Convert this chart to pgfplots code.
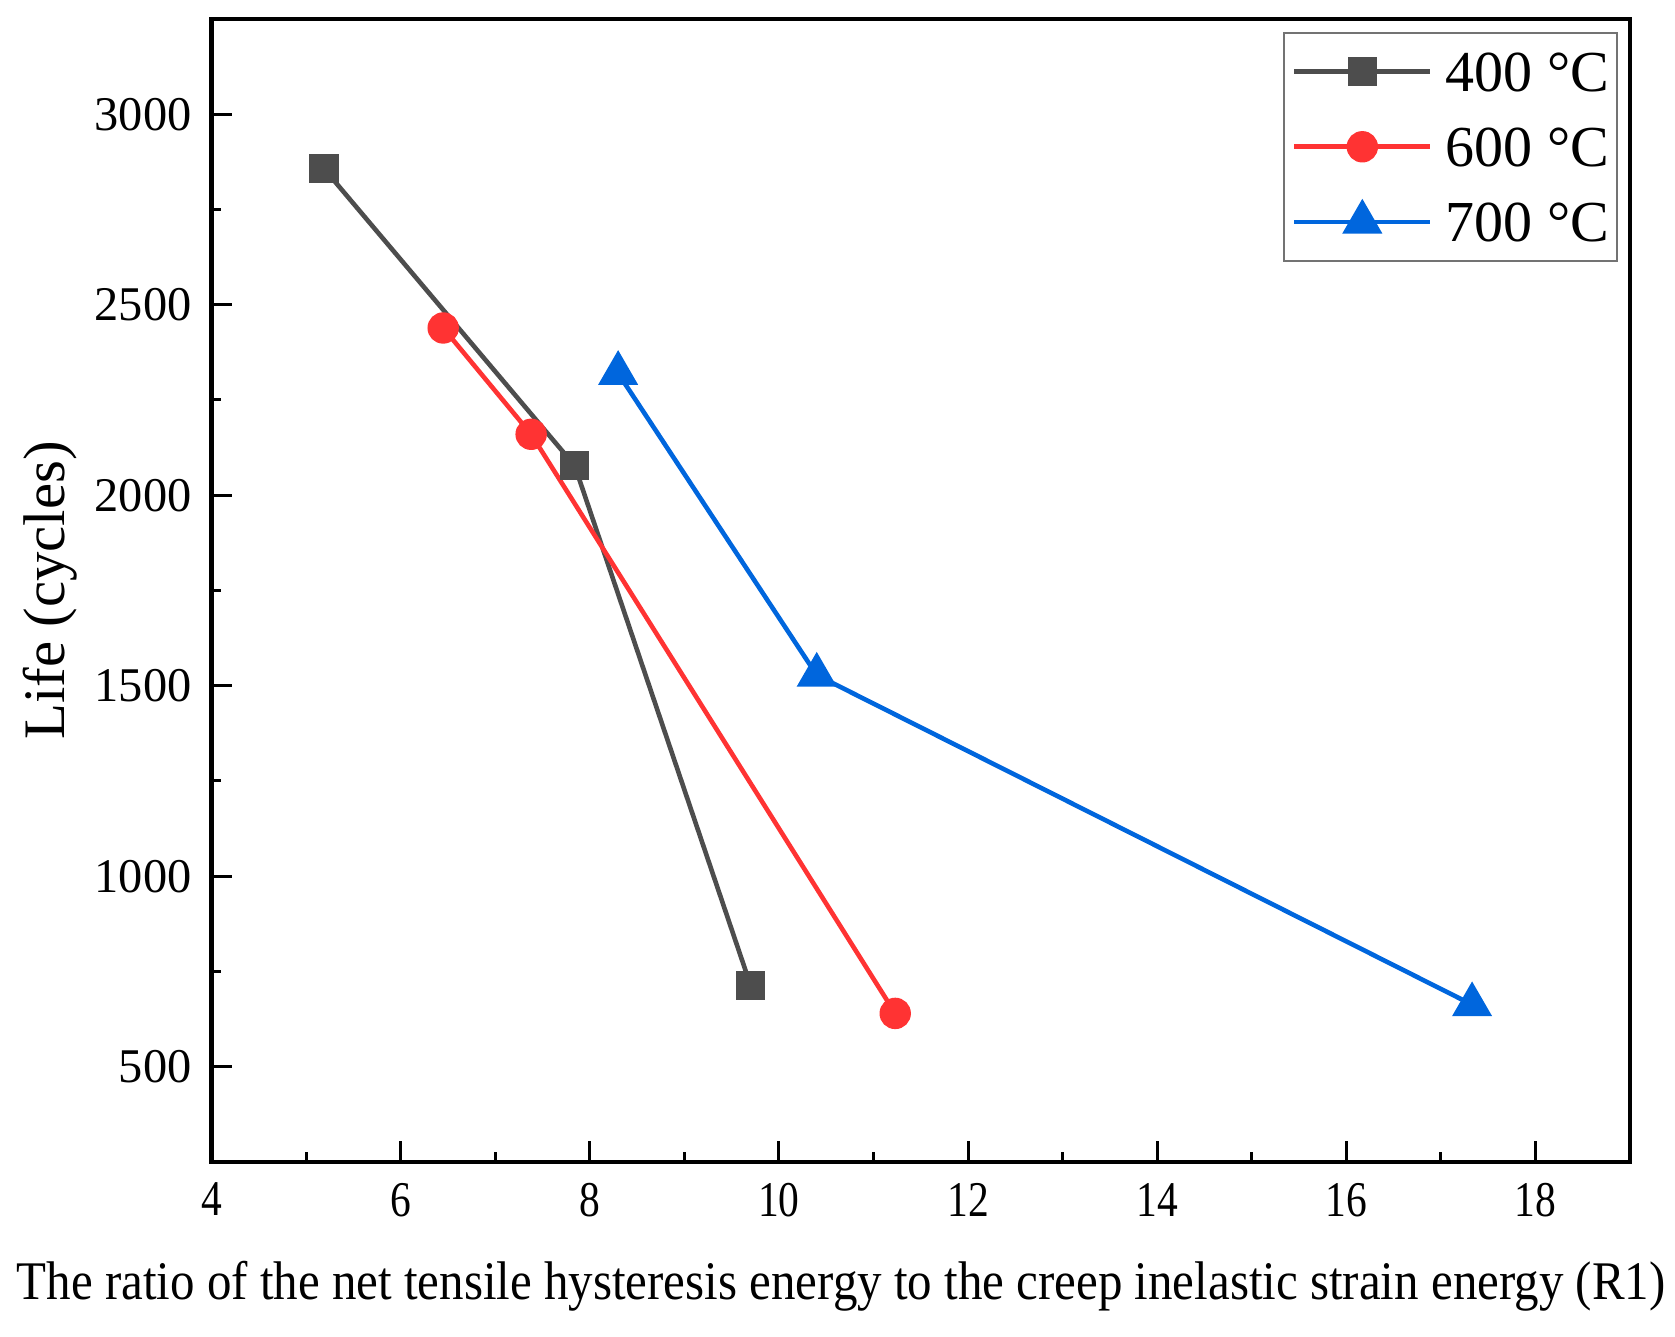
\documentclass[border=0pt]{standalone}
\usepackage{fontspec}
\setmainfont{Liberation Serif}
\newfontfamily\condx[FakeStretch=0.83]{Liberation Serif}
\newfontfamily\condl[FakeStretch=0.9]{Liberation Serif}
\usepackage{pgfplots}
\pgfplotsset{compat=1.18}
\definecolor{cA}{RGB}{77,77,77}
\definecolor{cB}{RGB}{255,51,51}
\definecolor{cC}{RGB}{0,102,221}
\begin{document}
\begin{tikzpicture}
\begin{axis}[
  at={(0,0)}, anchor=south west,
  scale only axis, width=709.25pt, height=571.5pt,
  xmin=4, xmax=19, ymin=250, ymax=3250,
  xtick={4,6,...,18}, ytick={500,1000,...,3000},
  minor x tick num=1, minor y tick num=1,
  tick pos=left, tick align=inside,
  major tick length=10.5pt, minor tick length=5pt,
  every tick/.append style={black, line width=1.5pt},
  axis line style={line width=2.2pt},
  /pgf/number format/assume math mode=true,
  /pgf/number format/1000 sep={},
  yticklabel style={font=\fontsize{24.2}{29}\selectfont, xshift=-6.5pt},
  xticklabel style={font=\condx\fontsize{25}{30}\selectfont, yshift=-7pt},
  xlabel={The ratio of the net tensile hysteresis energy to the creep inelastic strain energy (R1)},
  ylabel={Life (cycles)},
  xlabel style={font=\condl\fontsize{27.2}{32}\selectfont, at={(axis description cs:0.4438,-0.1207)}, anchor=base},
  ylabel style={font=\fontsize{29.4}{34}\selectfont, at={(axis description cs:-0.1033,0.5)}, anchor=base},
  legend cell align=left,
  legend image code/.code={\draw[mark repeat=2,mark phase=2,#1] plot coordinates {(0pt,0pt) (34pt,0pt) (68pt,0pt)};},
  legend style={at={(1,1)}, anchor=north east, xshift=-6pt, yshift=-6.5pt,
    draw=black!55, line width=1pt, font=\fontsize{29}{34}\selectfont,
    inner xsep=4pt, inner ysep=9.5pt, row sep=18pt, column sep=6.5pt,
    nodes={inner sep=0pt, text height=19.6pt, text depth=0pt}},
]
\addplot[color=cA, line width=2.3pt, mark=square*, mark size=6.2pt, mark options={solid, fill=cA}]
  coordinates {(5.19,2857) (7.84,2078) (9.70,714)};
\addlegendentry{400 °C}
\addplot[color=cB, line width=2.3pt, mark=*, mark size=6.7pt, mark options={solid, fill=cB}]
  coordinates {(6.45,2439) (7.38,2160) (11.23,640)};
\addlegendentry{600 °C}
\addplot[color=cC, line width=2.3pt, mark=triangle*, mark size=9.3pt, mark options={solid, fill=cC}]
  coordinates {(8.30,2320) (10.40,1528) (17.33,663)};
\addlegendentry{700 °C}
\end{axis}
\pgfresetboundingbox
\path (-105.75pt,-87.5pt) rectangle (731.75pt,581pt);
\end{tikzpicture}
\end{document}
